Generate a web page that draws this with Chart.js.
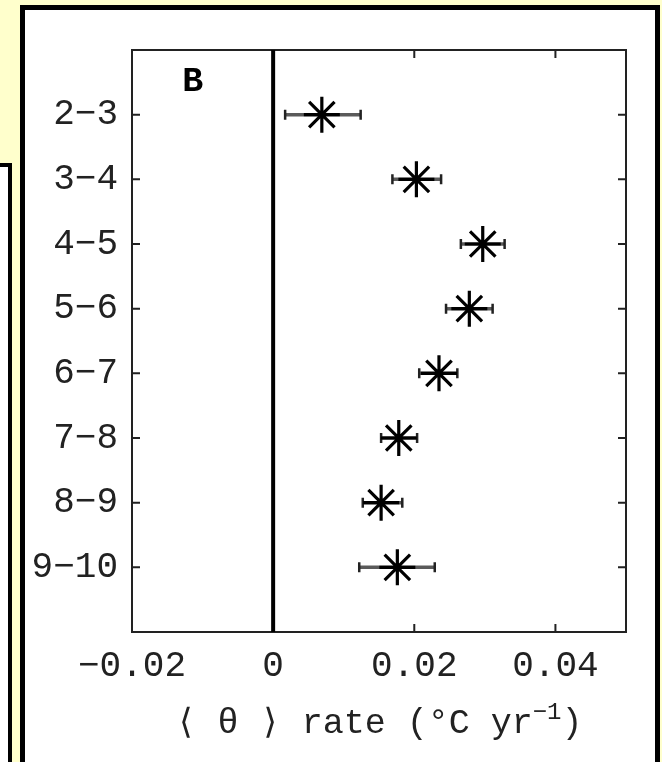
<!DOCTYPE html>
<html>
<head>
<meta charset="utf-8">
<script src="https://cdn.jsdelivr.net/npm/chart.js@4"></script>
<style>
  html, body { margin: 0; padding: 0; }
  body { width: 662px; height: 762px; background: #ffffcc; position: relative; overflow: hidden; }
  #leftBox { position: absolute; left: -20px; top: 163px; width: 32px; height: 700px; background: #fff; border: 4px solid #000; box-sizing: border-box; }
  #panel { position: absolute; left: 20px; top: 5px; width: 640px; height: 800px; background: #fff; border: 5px solid #000; box-sizing: border-box; }
  #chart { position: absolute; left: 0; top: 0; }
</style>
</head>
<body>
<div id="leftBox"></div>
<div id="panel"></div>
<canvas id="chart" width="662" height="762"></canvas>
<script>
// depth layers (m) and warming rates
const yLabels = ["2−3", "3−4", "4−5", "5−6", "6−7", "7−8", "8−9", "9−10"];
const rates = [0.0069, 0.0203, 0.0297, 0.0278, 0.0235, 0.0178, 0.0153, 0.0176];
const errLow = [0.0017, 0.0169, 0.0266, 0.0245, 0.0207, 0.0153, 0.0127, 0.0122];
const errHigh = [0.0124, 0.0238, 0.0328, 0.0311, 0.0261, 0.0204, 0.0183, 0.0229];
const xTicks = [-0.02, 0, 0.02, 0.04];
const xTickLabels = ["−0.02", "0", "0.02", "0.04"];

const monoFont = "'Liberation Mono', 'DejaVu Sans Mono', monospace";

const points = rates.map((r, i) => ({ x: r, y: i + 1 }));

// frame, inward ticks, zero line and error bars
const framePlugin = {
  id: "frame",
  beforeDatasetsDraw(chart) {
    const { ctx, chartArea: a, scales } = chart;
    const xs = scales.x, ys = scales.y;
    ctx.save();
    ctx.strokeStyle = "#222";
    ctx.lineWidth = 2;
    ctx.strokeRect(a.left, a.top, a.right - a.left, a.bottom - a.top);
    const t = 8;
    ctx.beginPath();
    xTicks.forEach(v => {
      const px = xs.getPixelForValue(v);
      ctx.moveTo(px, a.bottom); ctx.lineTo(px, a.bottom - t);
      ctx.moveTo(px, a.top); ctx.lineTo(px, a.top + t);
    });
    yLabels.forEach((_, i) => {
      const py = ys.getPixelForValue(i + 1);
      ctx.moveTo(a.left, py); ctx.lineTo(a.left + t, py);
      ctx.moveTo(a.right, py); ctx.lineTo(a.right - t, py);
    });
    ctx.stroke();
    // zero line
    const x0 = xs.getPixelForValue(0);
    ctx.strokeStyle = "#000";
    ctx.lineWidth = 4;
    ctx.beginPath();
    ctx.moveTo(x0, a.top); ctx.lineTo(x0, a.bottom);
    ctx.stroke();

    // error bars
    rates.forEach((r, i) => {
      const py = ys.getPixelForValue(i + 1);
      const lo = xs.getPixelForValue(errLow[i]);
      const hi = xs.getPixelForValue(errHigh[i]);
      ctx.strokeStyle = "#5a5a5a";
      ctx.lineWidth = 3.5;
      ctx.beginPath();
      ctx.moveTo(lo, py); ctx.lineTo(hi, py);
      ctx.stroke();
      ctx.strokeStyle = "#222";
      ctx.lineWidth = 2.5;
      ctx.beginPath();
      ctx.moveTo(lo, py - 5); ctx.lineTo(lo, py + 5);
      ctx.moveTo(hi, py - 5); ctx.lineTo(hi, py + 5);
      ctx.stroke();
    });
    ctx.restore();
  },
  afterDraw(chart) {
    const { ctx, chartArea: a, scales } = chart;
    ctx.save();
    ctx.fillStyle = "#000";
    // panel letter
    ctx.font = "bold 35px " + monoFont;
    ctx.textAlign = "center";
    ctx.textBaseline = "middle";
    ctx.fillText("B", scales.x.getPixelForValue(-0.0114), scales.y.getPixelForValue(0.5));

    // axis title with superscript
    const big = "35px " + monoFont, small = "24px " + monoFont;
    const main = "⟨ θ ⟩ rate (°C yr", sup = "−1", close = ")";
    ctx.fillStyle = "#222";
    ctx.font = big;
    const w1 = ctx.measureText(main).width;
    const w3 = ctx.measureText(close).width;
    ctx.font = small;
    const w2 = ctx.measureText(sup).width;
    let x = (a.left + a.right) / 2 - (w1 + w2 + w3) / 2;
    const base = 733;
    ctx.textAlign = "left";
    ctx.textBaseline = "alphabetic";
    ctx.font = big;
    ctx.fillText(main, x, base);
    x += w1;
    ctx.font = small;
    ctx.fillText(sup, x, base - 14);
    x += w2;
    ctx.font = big;
    ctx.fillText(close, x, base);
    ctx.restore();
  }
};

new Chart(document.getElementById("chart"), {
  type: "scatter",
  data: {
    datasets: [
      {
        data: points,
        pointStyle: "star",
        pointRadius: 18,
        pointHoverRadius: 18,
        borderColor: "#000",
        backgroundColor: "#000",
        borderWidth: 3.2
      },
      {
        data: points,
        pointStyle: "rect",
        pointRadius: 3.5,
        pointHoverRadius: 3.5,
        borderColor: "#000",
        backgroundColor: "#000",
        borderWidth: 1
      }
    ]
  },
  options: {
    responsive: false,
    animation: false,
    events: [],
    layout: { padding: { top: 50, right: 36, left: 0, bottom: 0 } },
    plugins: { legend: { display: false }, tooltip: { enabled: false } },
    scales: {
      x: {
        type: "linear",
        min: -0.02,
        max: 0.05,
        grid: { display: false },
        border: { display: false },
        afterBuildTicks: (s) => { s.ticks = xTicks.map(v => ({ value: v })); },
        afterFit: (s) => { s.height = 130; },
        ticks: {
          autoSkip: false,
          maxRotation: 0,
          padding: 5,
          color: "#222",
          font: { family: monoFont, size: 36 },
          callback: (v) => xTickLabels[xTicks.indexOf(v)]
        }
      },
      y: {
        type: "linear",
        min: 0,
        max: 9,
        reverse: true,
        grid: { display: false },
        border: { display: false },
        afterBuildTicks: (s) => { s.ticks = yLabels.map((_, i) => ({ value: i + 1 })); },
        afterFit: (s) => { s.width = 132; },
        ticks: {
          autoSkip: false,
          padding: 6,
          color: "#222",
          font: { family: monoFont, size: 36 },
          callback: (v) => yLabels[v - 1]
        }
      }
    }
  },
  plugins: [framePlugin]
});
</script>
</body>
</html>
